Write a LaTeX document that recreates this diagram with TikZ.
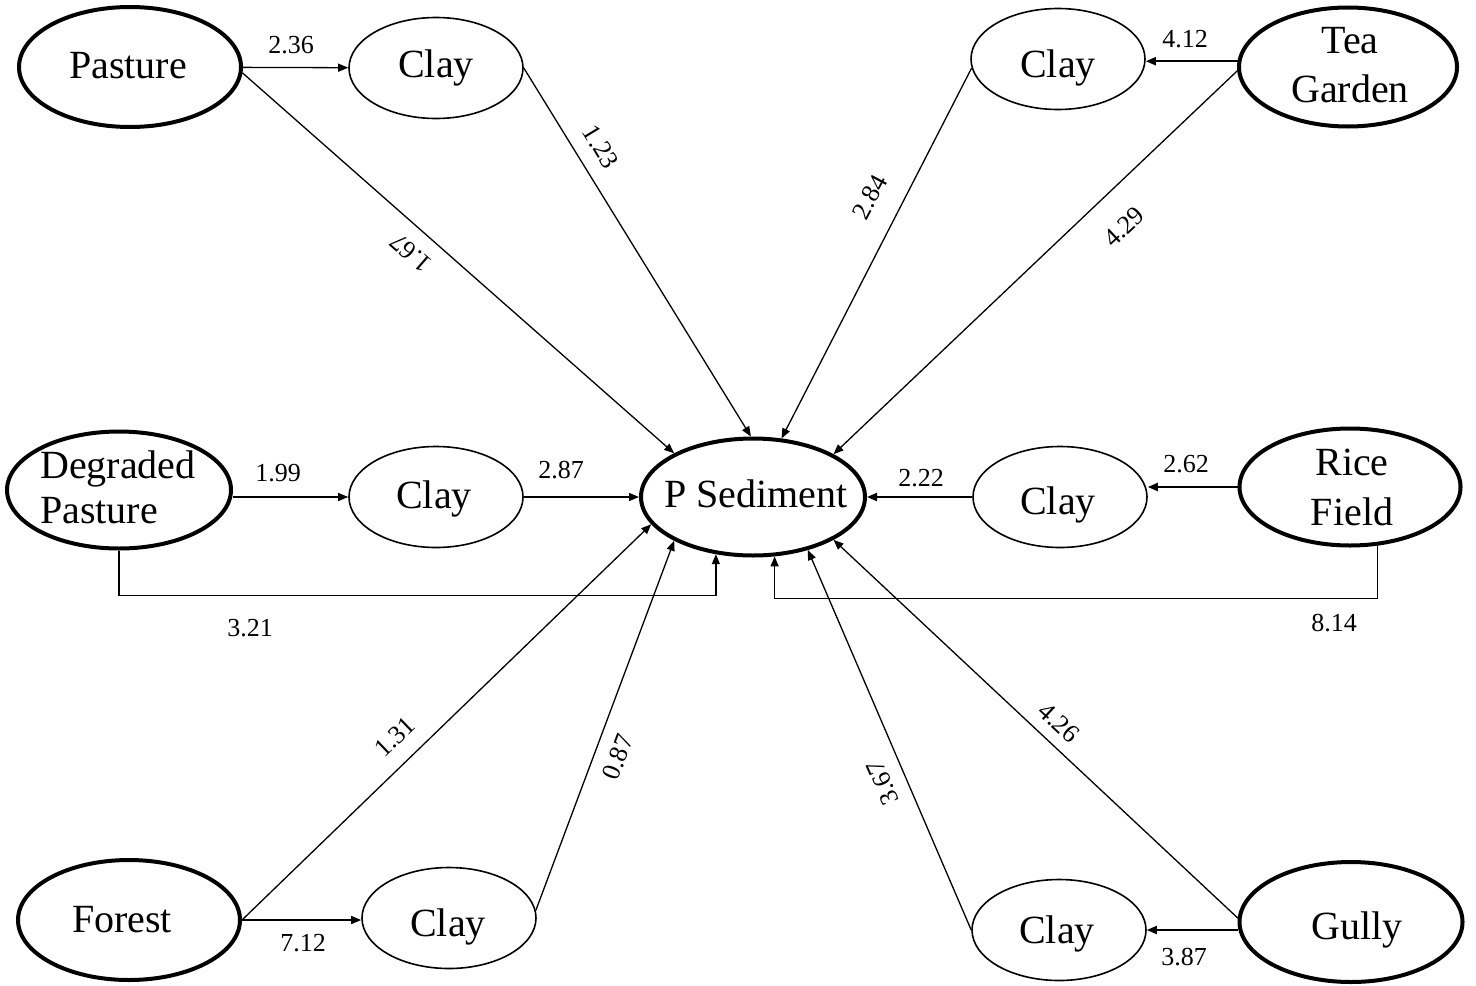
\documentclass[tikz,border=0pt]{standalone}
\usepackage{fontspec}
\setmainfont{Liberation Serif}
\usetikzlibrary{shapes.geometric,arrows.meta,calc}

\begin{document}
\begin{tikzpicture}[x=0.5pt,y=-0.5pt,
  landuse/.style={ellipse,draw,line width=2pt,inner sep=0pt,outer sep=1pt},
  claynode/.style={ellipse,draw,line width=0.8pt,inner sep=0pt,outer sep=0.4pt,
    minimum width=87pt,minimum height=50.5pt},
  target/.style={ellipse,draw,line width=2pt,inner sep=0pt,outer sep=1pt,
    minimum width=112pt,minimum height=58.5pt},
  nametext/.style={font=\fontsize{20}{25}\selectfont,inner sep=0pt,align=center},
  onetext/.style={nametext,text height=13.6pt,text depth=0pt},
  coef/.style={font=\fontsize{13}{13}\selectfont,inner sep=0pt},
  link/.style={line width=0.65pt,-{Triangle[length=5pt,width=4pt]}},
  boldlink/.style={link,line width=1pt}
]
\useasboundingbox (0,0) rectangle (1476,985);

% central response variable
\node[target] (psed) at (753,497) {};
\node[onetext] (psedT) at (756,493.5) {P Sediment};

% land-use sources
\node[landuse,minimum width=111pt,minimum height=60pt] (past) at (130,67) {};
\node[onetext] (pastT) at (128,65) {Pasture};
\node[landuse,minimum width=109pt,minimum height=59.5pt] (tea) at (1348,67) {};
\node[nametext,font=\fontsize{20}{24.5}\selectfont] (teaT) at (1350,65) {Tea\\Garden};
\node[landuse,minimum width=112pt,minimum height=58.5pt] (dp) at (119,490) {};
\node[nametext,align=left,font=\fontsize{20}{22.5}\selectfont] (dpT) at (118,487) {Degraded\\Pasture};
\node[landuse,minimum width=110.5pt,minimum height=58.5pt] (rice) at (1350,487) {};
\node[nametext] (riceT) at (1352,487) {Rice\\Field};
\node[landuse,minimum width=111pt,minimum height=60pt] (forest) at (129,920) {};
\node[onetext] (forestT) at (122,918.5) {Forest};
\node[landuse,minimum width=111.5pt,minimum height=60pt] (gully) at (1351,922) {};
\node[onetext] (gullyT) at (1357,926) {Gully};

% clay mediators
\node[claynode] (c1) at (436,68) {};
\node[onetext] (c1T) at (436,63.5) {Clay};
\node[claynode] (c2) at (1058,59) {};
\node[onetext] (c2T) at (1058,63.5) {Clay};
\node[claynode] (c3) at (436,497) {};
\node[onetext] (c3T) at (434,495) {Clay};
\node[claynode] (c4) at (1060,497) {};
\node[onetext] (c4T) at (1058,501) {Clay};
\node[claynode] (c5) at (449,918) {};
\node[onetext] (c5T) at (448,922.5) {Clay};
\node[claynode] (c6) at (1059,930) {};
\node[onetext] (c6T) at (1057,930) {Clay};

% paths
\draw[link] (past) -- (c1);
\draw[link] (past.-3) -- (psed.151.5);
\draw[link] (c1.east) -- (psed.92.8);
\draw[boldlink] (tea.177) -- (tea.177 -| c2.east);
\draw[link] (c2.186) -- (psed.64.2);
\draw[link] (tea.182.4) -- (psed.28.8);
\draw[link] (c3.west -| dp.east) -- (c3.west);
\draw[link] (c3.east) -- (c3.east -| psed.west);
\draw[link] (dp.south) -- ++(0,45) -| (psed.237.3);
\draw[boldlink] (rice.west) -- (rice.west -| c4.east);
\draw[boldlink] (c4.west) -- (c4.west -| psed.east);
\draw[link] (rice.-65) -- ++(0,53) -| (psed.-70.3);
\draw[link] (forest.east) -- (forest.east -| c5.west);
\draw[link] (forest.east) -- (psed.195.9);
\draw[link] (c5.5) -- (psed.209.4);
\draw[boldlink] (c6.east -| gully.west) -- (c6.east);
\draw[link] (gully.178) -- (psed.-28.3);
\draw[link] (c6.west) -- (psed.-44);

% path coefficients
\node[coef] (k236) at (291,45) {2.36};
\node[coef,rotate=139] (k167) at (411,253) {1.67};
\node[coef,rotate=-58.7] (k123) at (601,147) {1.23};
\node[coef,rotate=62] (k284) at (870,197) {2.84};
\node[coef,rotate=43] (k429) at (1124,227) {4.29};
\node[coef] (k412) at (1185,39) {4.12};
\node[coef] (k199) at (278,473) {1.99};
\node[coef] (k287) at (561,470) {2.87};
\node[coef] (k222) at (921,478) {2.22};
\node[coef] (k262) at (1186,464) {2.62};
\node[coef] (k321) at (250,628) {3.21};
\node[coef] (k814) at (1334,623) {8.14};
\node[coef,rotate=44] (k131) at (395,737) {1.31};
\node[coef,rotate=69.5] (k087) at (618,757) {0.87};
\node[coef,rotate=113.6] (k367) at (883,783) {3.67};
\node[coef,rotate=-42.8] (k426) at (1059,723) {4.26};
\node[coef] (k712) at (303,943) {7.12};
\node[coef] (k387) at (1184,957) {3.87};
\end{tikzpicture}
\end{document}
